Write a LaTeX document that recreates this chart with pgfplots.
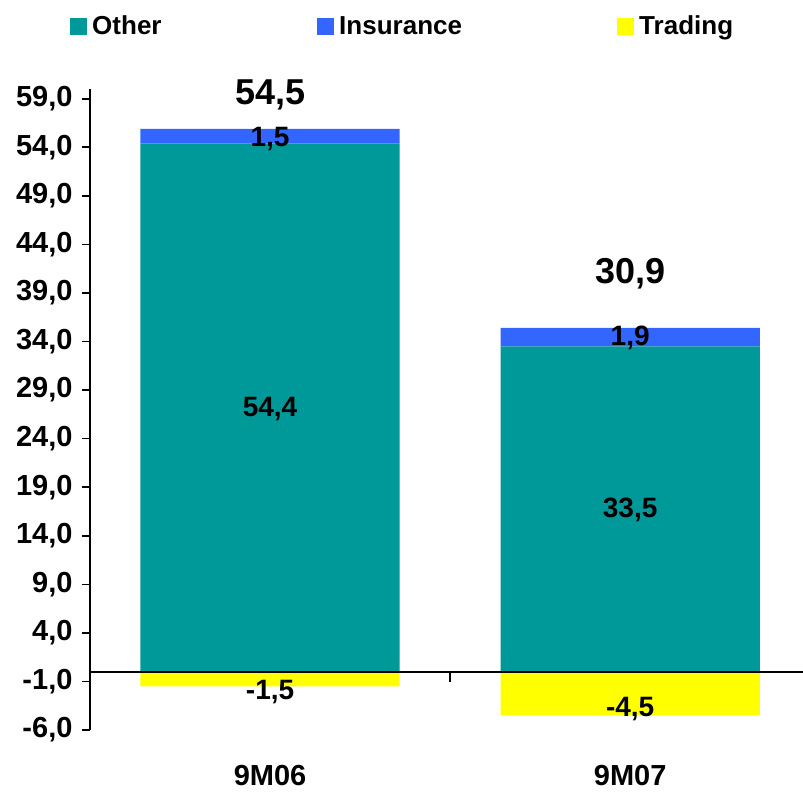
\documentclass[border=0pt]{standalone}
\usepackage{fontspec}
\setmainfont{Liberation Sans}
\usepackage{pgfplots}
\pgfplotsset{compat=1.18}
\definecolor{cOther}{RGB}{0,153,153}
\definecolor{cIns}{RGB}{51,102,255}
\definecolor{cTrad}{RGB}{255,255,0}
\newcommand{\fs}[1]{\bfseries\fontsize{#1}{#1}\selectfont}
\begin{document}
\begin{tikzpicture}[lbl/.style={font=\fs{28}, yshift=-2.5pt}, tot/.style={font=\fs{36}, yshift=-2.5pt}]
\pgfplotsset{
  common/.style={
    scale only axis, width=713pt, height=641pt,
    xmin=-0.5, xmax=1.48, ymin=-6, ymax=60,
    bar width=0.72,
  }
}
\begin{axis}[
  common,
  ybar stacked,
  axis y line=left, axis x line=bottom,
  x axis line style={draw=none},
  y axis line style={-, line width=1.6pt},
  xtick={0,1}, xticklabels={9M06,9M07},
  x tick style={draw=none},
  ytick={-6,-1,...,59},
  tick align=outside, major tick length=8pt,
  y tick style={line width=1.6pt, black},
  yticklabel style={font=\fs{29}, xshift=-6pt, /pgf/number format/.cd, fixed, fixed zerofill, precision=1, use comma, assume math mode=true},
  xticklabel style={font=\fs{29}, anchor=center, yshift=-38pt},
  legend columns=3,
  legend style={at={(axis description cs:-0.028,1.098)}, anchor=west, draw=none, fill=none, font=\fs{26}, inner sep=0pt,
    /tikz/every even column/.append style={column sep=0pt}},
  legend image code/.code={\fill[#1] (0pt,-8.5pt) rectangle (17pt,8.5pt);},
]
\addplot[fill=cOther, draw=none] coordinates {(0,54.4) (1,33.5)};
\addlegendentry{\makebox[226pt][l]{\hspace*{3pt}Other}}
\addplot[fill=cIns, draw=none] coordinates {(0,1.5) (1,1.9)};
\addlegendentry{\makebox[279pt][l]{\hspace*{3pt}Insurance}}
\addlegendimage{fill=cTrad, draw=none}
\addlegendentry{\hspace*{3pt}Trading}
\end{axis}
\begin{axis}[
  common,
  ybar, bar shift=0pt,
  hide axis, clip=false,
]
\addplot[fill=cTrad, draw=none] coordinates {(0,-1.5) (1,-4.5)};
\draw[line width=1.6pt] (axis cs:-0.5,0) -- (axis cs:1.48,0);
\draw[line width=1.6pt] (axis cs:0.5,0) -- ++(0pt,-10pt);
\node[lbl] at (axis cs:0,-1.85) {-1,5};
\node[lbl] at (axis cs:1,-3.6) {-4,5};
\node[lbl] at (axis cs:0,27.3) {54,4};
\node[lbl] at (axis cs:1,16.9) {33,5};
\node[lbl] at (axis cs:0,55.1) {1,5};
\node[lbl] at (axis cs:1,34.6) {1,9};
\node[tot] at (axis cs:0,59.7) {54,5};
\node[tot] at (axis cs:1,41.2) {30,9};
\end{axis}
\pgfresetboundingbox
\path[use as bounding box] ([shift={(-90pt,-62pt)}]current axis.south west) rectangle ([shift={(0pt,89pt)}]current axis.north east);
\end{tikzpicture}
\end{document}
